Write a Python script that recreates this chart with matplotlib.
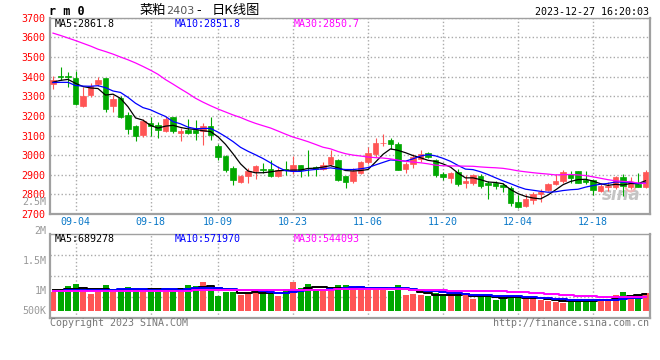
import numpy as np
import pandas as pd
import matplotlib
matplotlib.use('Agg')
import matplotlib.pyplot as plt

plt.rcParams['font.family'] = ['DejaVu Sans Mono', 'Noto Sans CJK SC']

# ---------------- data ----------------
holidays = ['2023-09-29', '2023-10-02', '2023-10-03', '2023-10-04', '2023-10-05', '2023-10-06']
all_days = pd.bdate_range('2023-08-30', '2023-12-27')
dates = all_days[~all_days.isin(pd.to_datetime(holidays))]

opens = [3363, 3401, 3402, 3391, 3252, 3308, 3362, 3391, 3248, 3290,
         3205, 3146, 3104, 3164, 3155, 3123, 3192, 3114, 3128, 3126,
         3121, 3150, 3048, 2994, 2932, 2862, 2893, 2921, 2927, 2930,
         2893, 2927, 2918, 2948, 2936, 2938, 2930, 2955, 2974, 2893,
         2866, 2910, 2963, 3008, 3060, 3075, 3058, 2927, 2955, 2980,
         3012, 2973, 2906, 2882, 2913, 2858, 2860, 2893, 2860, 2860,
         2850, 2830, 2761, 2740, 2772, 2800, 2822, 2851, 2868, 2906,
         2918, 2871, 2872, 2818, 2838, 2836, 2890, 2840, 2855, 2836]
highs = [3404, 3448, 3426, 3428, 3347, 3368, 3399, 3395, 3305, 3300,
         3220, 3153, 3185, 3196, 3171, 3197, 3195, 3138, 3185, 3180,
         3166, 3192, 3057, 2999, 2943, 2901, 2935, 2952, 2960, 2977,
         2943, 2972, 2994, 2952, 3028, 2943, 2963, 3024, 2981, 2895,
         2937, 2968, 3040, 3087, 3109, 3087, 3065, 2966, 3007, 3024,
         3018, 2980, 2913, 2915, 2930, 2898, 2904, 2903, 2866, 2870,
         2858, 2842, 2799, 2800, 2810, 2825, 2859, 2904, 2923, 2918,
         2920, 2918, 2876, 2860, 2865, 2893, 2904, 2888, 2910, 2922]
lows = [3337, 3385, 3346, 3256, 3243, 3295, 3350, 3222, 3222, 3189,
        3109, 3074, 3090, 3099, 3086, 3118, 3112, 3070, 3110, 3079,
        3050, 3079, 2977, 2915, 2850, 2856, 2859, 2876, 2910, 2889,
        2889, 2901, 2906, 2889, 2896, 2893, 2923, 2943, 2868, 2834,
        2859, 2904, 2955, 2991, 3045, 3031, 2922, 2911, 2937, 2966,
        2985, 2888, 2872, 2860, 2843, 2830, 2849, 2835, 2774, 2825,
        2810, 2742, 2729, 2737, 2749, 2762, 2818, 2847, 2860, 2860,
        2856, 2851, 2798, 2810, 2815, 2826, 2792, 2825, 2836, 2833]
closes = [3385, 3399, 3400, 3262, 3302, 3350, 3383, 3234, 3285, 3195,
          3135, 3100, 3176, 3151, 3127, 3185, 3121, 3122, 3115, 3113,
          3150, 3101, 2989, 2923, 2873, 2893, 2918, 2943, 2925, 2894,
          2923, 2925, 2952, 2926, 2934, 2931, 2952, 2989, 2871, 2865,
          2920, 2963, 3013, 3062, 3063, 3058, 2926, 2953, 2989, 3008,
          2992, 2898, 2890, 2908, 2855, 2869, 2900, 2843, 2849, 2842,
          2836, 2755, 2737, 2779, 2801, 2813, 2854, 2866, 2912, 2884,
          2860, 2863, 2820, 2845, 2841, 2888, 2844, 2860, 2840, 2915]
volumes = [787, 857, 1035, 1105, 857, 691, 828, 1064, 787, 816,
           981, 898, 828, 898, 898, 898, 828, 898, 1064, 1023,
           1188, 898, 609, 787, 787, 650, 733, 816, 716, 716,
           609, 898, 1201, 940, 1105, 857, 828, 923, 1064, 1064,
           882, 898, 882, 994, 994, 816, 1064, 650, 691, 650,
           609, 716, 609, 650, 745, 650, 484, 609, 650, 443,
           509, 609, 551, 509, 468, 443, 402, 373, 331, 414,
           443, 443, 443, 484, 484, 650, 787, 609, 650, 745]  # thousand lots

# moving-average values before a full window exists
ma5_head = [3372, 3381, 3386, 3366]
ma10_head = [3370, 3371, 3371, 3355, 3352, 3351, 3354, 3344, 3327]
ma30_head = [3622, 3610, 3597, 3584, 3570, 3556, 3540, 3528, 3515, 3500,
             3486, 3470, 3452, 3433, 3412, 3385, 3362, 3338, 3315, 3290,
             3270, 3252, 3235, 3220, 3205, 3192, 3176, 3162, 3150]
vol_ma5_head = [850, 860, 880, 900]
vol_ma10_head = [830, 835, 842, 850, 856, 852, 846, 851, 862]
vol_ma30_head = [805, 806, 809, 810, 812, 814, 815, 817, 818, 820,
                 822, 823, 825, 826, 828, 830, 832, 834, 836, 838,
                 840, 842, 844, 846, 848, 851, 854, 857, 861]

tick_dates = ['09-04', '09-18', '10-09', '10-23', '11-06', '11-20', '12-04', '12-18']
price_ticks = list(range(2700, 3701, 100))
vol_tick_labels = ['2.5M', '2M', '1.5M', '1M', '500K']
ma_price_text = ['MA5:2861.8', 'MA10:2851.8', 'MA30:2850.7']
ma_vol_text = ['MA5:689278', 'MA10:571970', 'MA30:544093']
title_name = '菜粕'
title_code = '2403'
title_rest = '日K线图'
symbol = 'r m 0'
timestamp = '2023-12-27 16:20:03'
copyright_text = 'Copyright 2023 SINA.COM'
url_text = 'http://finance.sina.com.cn'

# ---------------- styling ----------------
RED = '#ff5555'
GREEN = '#00a800'
GRID = '#aaaaaa'
BORDER = '#a0a0a0'
MA_COLORS = ['#000000', '#0000ff', '#ff00ff']
DATE_BLUE = '#0a78c8'
FS = 7.2

W, H = 660, 360


def fx(x):
    return x / W


def fy(y):
    return 1 - y / H


def moving(values, n, head):
    s = pd.Series(values, dtype=float).rolling(n).mean().to_numpy()
    s[:n - 1] = head
    return s


idx = np.arange(len(closes))
O = np.array(opens, float)
Hh = np.array(highs, float)
L = np.array(lows, float)
C = np.array(closes, float)
V = np.array(volumes, float) * 1000
colors = np.where(C > O, RED, GREEN)
labels_all = list(dates.strftime('%m-%d'))
tick_idx = [labels_all.index(d) for d in tick_dates]

ma_p = [moving(C, 5, ma5_head), moving(C, 10, ma10_head), moving(C, 30, ma30_head)]
ma_v = [moving(V, 5, np.array(vol_ma5_head) * 1000),
        moving(V, 10, np.array(vol_ma10_head) * 1000),
        moving(V, 30, np.array(vol_ma30_head) * 1000)]

fig = plt.figure(figsize=(6.6, 3.6), dpi=100)
fig.patch.set_facecolor('white')

# ---------------- price panel ----------------
top_p, bot_p = 17.8, 214.0
ax = fig.add_axes([fx(50), fy(bot_p), fx(600), (bot_p - top_p) / H])
ax.set_xlim(-0.4, len(idx) - 0.4)
ax.set_ylim(price_ticks[0], price_ticks[-1])
ax.set_yticks(price_ticks)
ax.set_xticks(tick_idx)
ax.set_xticklabels(tick_dates)
ax.grid(True, linestyle=':', color=GRID, linewidth=1.0, zorder=0)
ax.set_axisbelow(True)
ax.tick_params(axis='y', length=0, pad=3.5, labelcolor='#ff0000', labelsize=FS)
ax.tick_params(axis='x', length=0, pad=2.5, labelcolor=DATE_BLUE, labelsize=FS)
for side, sp in ax.spines.items():
    sp.set_color(BORDER)
    sp.set_linewidth(1.0 if side == 'top' else 1.6)

ax.vlines(idx, L, Hh, colors=colors, linewidth=0.8, zorder=2)
ax.bar(idx, C - O, bottom=O, width=0.76, color=colors, edgecolor=colors,
       linewidth=0.5, zorder=3)
for m, col in zip(ma_p, MA_COLORS):
    ax.plot(idx, m, color=col, linewidth=0.9, zorder=4)

# sina watermark
ax.text(0.985, 0.05, 'sina', transform=ax.transAxes, ha='right', va='bottom',
        fontsize=12, fontstyle='italic', fontweight='bold', color='#c4c4c4',
        family=['DejaVu Sans'], zorder=1)
ax.plot([0.966], [0.145], marker='o', markersize=7, markerfacecolor='none',
        markeredgecolor='#f0b4b4', markeredgewidth=1.5, transform=ax.transAxes, zorder=1)

# ---------------- volume panel ----------------
top_v, bot_v = 234.3, 317.7
ax2 = fig.add_axes([fx(50), fy(bot_v), fx(600), (bot_v - top_v) / H])
ax2.set_xlim(-0.4, len(idx) - 0.4)
ax2.set_ylim(-290e3, 3164e3)
ax2.set_yticks([])
ax2.set_xticks(tick_idx)
ax2.set_xticklabels([])
ax2.tick_params(axis='x', length=0)
ax2.grid(True, axis='x', linestyle=':', color=GRID, linewidth=1.0, zorder=0)
for f in (0.25, 0.5, 0.75):
    ax2.plot([0, 1], [f, f], transform=ax2.transAxes, linestyle=':',
             color=GRID, linewidth=1.0, zorder=0)
ax2.set_axisbelow(True)
for side, sp in ax2.spines.items():
    sp.set_color(BORDER)
    sp.set_linewidth(1.0 if side == 'top' else 1.6)

ax2.bar(idx, V, width=0.8, color=colors, linewidth=0, zorder=2)
for m, col in zip(ma_v, MA_COLORS):
    ax2.plot(idx, m, color=col, linewidth=1.4, drawstyle='steps-mid', zorder=3)

vol_label_y = [202.0, 230.7, 260.5, 291.0, 310.7]
for lab, yy in zip(vol_tick_labels, vol_label_y):
    fig.text(fx(46.5), fy(yy), lab, ha='right', va='center', fontsize=FS, color='#999999')

# ---------------- texts ----------------
legend_x = [55, 175, 294]
for t, xx, col in zip(ma_price_text, legend_x, MA_COLORS):
    fig.text(fx(xx), fy(24.0), t, ha='left', va='center', fontsize=FS, color=col)
for t, xx, col in zip(ma_vol_text, legend_x, MA_COLORS):
    fig.text(fx(xx), fy(238.5), t, ha='left', va='center', fontsize=FS, color=col)

fig.text(fx(49), fy(11.5), symbol, ha='left', va='center', fontsize=8.5,
         fontweight='bold', color='black')
fig.text(fx(140), fy(10.5), title_name, ha='left', va='center', fontsize=9.5,
         family=['Noto Sans CJK SC'], color='black')
fig.text(fx(166), fy(11.0), title_code, ha='left', va='center', fontsize=8,
         family=['DejaVu Sans'], color='#555555')
fig.text(fx(196), fy(10.5), '-', ha='left', va='center', fontsize=9.5,
         family=['Noto Sans CJK SC'], color='black')
fig.text(fx(212), fy(10.5), title_rest, ha='left', va='center', fontsize=9.5,
         family=['Noto Sans CJK SC'], color='black')
fig.text(fx(649), fy(11.7), timestamp, ha='right', va='center', fontsize=FS, color='black')
fig.text(fx(50), fy(323.3), copyright_text, ha='left', va='center', fontsize=FS, color='#777777')
fig.text(fx(649), fy(323.3), url_text, ha='right', va='center', fontsize=FS, color='#777777')

fig.savefig('out.png', dpi=100, facecolor='white')
